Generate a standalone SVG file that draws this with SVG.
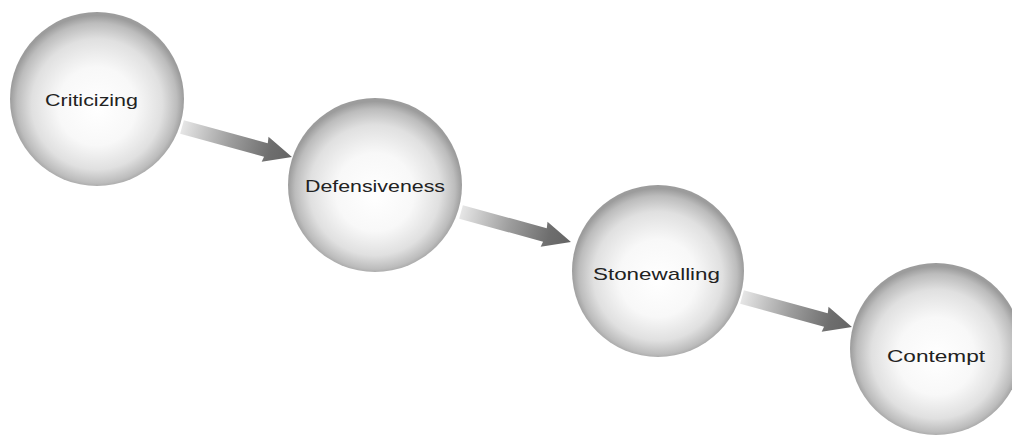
<svg xmlns="http://www.w3.org/2000/svg" width="1012" height="441" viewBox="0 0 1012 441">
  <defs>
    <radialGradient id="ball" cx="0.5" cy="0.52" r="0.5" fx="0.5" fy="0.56">
      <stop offset="0" stop-color="#ffffff"/>
      <stop offset="0.45" stop-color="#f8f8f8"/>
      <stop offset="0.75" stop-color="#e0e0e0"/>
      <stop offset="0.92" stop-color="#bcbcbc"/>
      <stop offset="1" stop-color="#9c9c9c"/>
    </radialGradient>
    <linearGradient id="shade" x1="0" y1="0" x2="1" y2="0">
      <stop offset="0" stop-color="#e6e6e6"/>
      <stop offset="0.45" stop-color="#9c9c9c"/>
      <stop offset="0.8" stop-color="#6e6e6e"/>
      <stop offset="1" stop-color="#646464"/>
    </linearGradient>
    <!-- arrow shape laid out along +x, starting at the origin -->
    <path id="arrow" d="M0,-7 L87,-7 L86,-13.5 L114,0 L86,12.5 L87,7 L0,7 Z" fill="url(#shade)"/>
  </defs>
  <style>
    .node circle { fill: url(#ball); }
    .node text { font-family: "Liberation Sans", Arial, sans-serif; font-size: 17px; fill: #222; text-anchor: middle; }
  </style>

  <rect width="1012" height="441" fill="#ffffff"/>

  <g id="connectors">
    <use href="#arrow" transform="translate(182,127) rotate(15.3)"/>
    <use href="#arrow" transform="translate(461,212) rotate(15.3)"/>
    <use href="#arrow" transform="translate(742,297) rotate(15.3)"/>
  </g>

  <g id="criticizing" class="node">
    <circle cx="97" cy="99" r="87"/>
    <text x="91.5" y="106" textLength="93" lengthAdjust="spacingAndGlyphs">Criticizing</text>
  </g>
  <g id="defensiveness" class="node">
    <circle cx="375" cy="185" r="87"/>
    <text x="375" y="192" textLength="140" lengthAdjust="spacingAndGlyphs">Defensiveness</text>
  </g>
  <g id="stonewalling" class="node">
    <circle cx="658" cy="271" r="86"/>
    <text x="656.5" y="280" textLength="127" lengthAdjust="spacingAndGlyphs">Stonewalling</text>
  </g>
  <g id="contempt" class="node">
    <circle cx="936" cy="349" r="86"/>
    <text x="936" y="362" textLength="98" lengthAdjust="spacingAndGlyphs">Contempt</text>
  </g>
</svg>
